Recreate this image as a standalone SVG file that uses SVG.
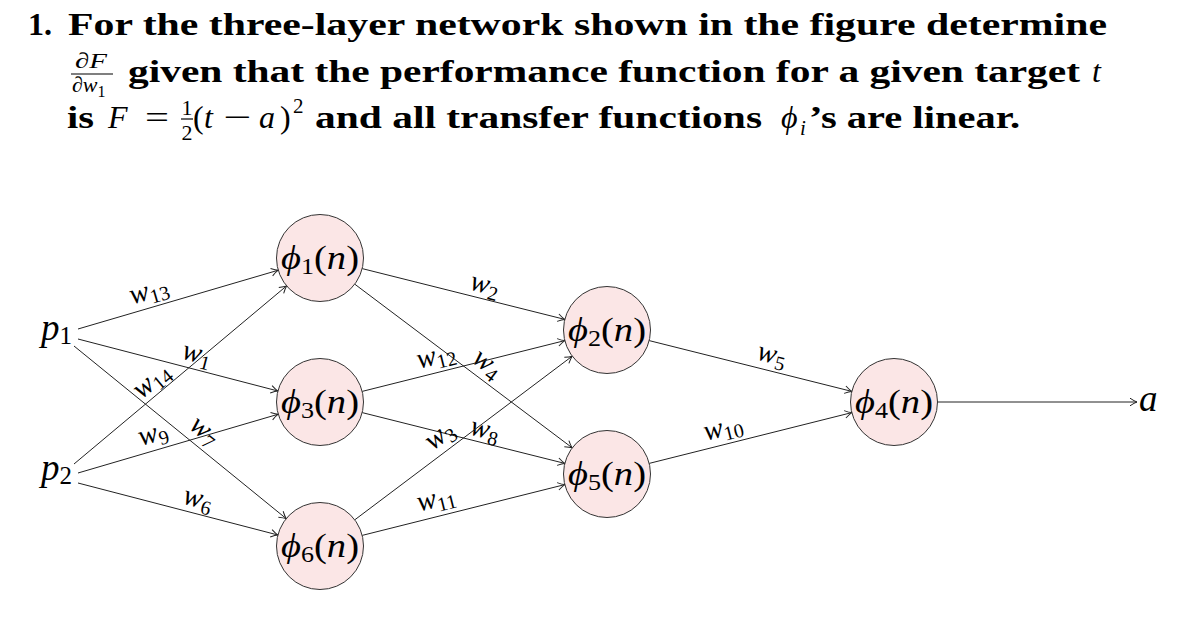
<svg xmlns="http://www.w3.org/2000/svg" width="1186" height="634" viewBox="0 0 1186 634">
<style>
text { font-family: "Liberation Serif", "DejaVu Serif", serif; fill: #000; }
.hb { font-weight: bold; font-size: 32px; }
.mi { font-style: italic; }
.mt { font-size: 32px; }
.fr { font-size: 22px; text-anchor: middle; }
.node circle { fill: #fbe6e6; stroke: #333; stroke-width: 1; }
.nl { font-size: 34px; text-anchor: middle; }
.pl { font-size: 37px; }
.wl { font-size: 29px; text-anchor: middle; }
.edge { stroke: #222; stroke-width: 1; fill: none; marker-end: url(#arr); }
.bar { stroke: #000; stroke-width: 1.2; }
</style>
<defs>
<marker id="arr" markerUnits="userSpaceOnUse" markerWidth="12" markerHeight="12" viewBox="-10 -6 12 12" refX="0" refY="0" orient="auto" overflow="visible">
<path d="M-7,-3.8 Q-2.5,-0.8 0,0 Q-2.5,0.8 -7,3.8" fill="none" stroke="#222" stroke-width="1"/>
</marker>
</defs>

<g id="question">
<text class="hb" x="28" y="35">1.</text>
<text class="hb" x="68" y="35" textLength="1039" lengthAdjust="spacingAndGlyphs">For the three-layer network shown in the figure determine</text>
<text class="fr mi" x="91" y="68" textLength="32" lengthAdjust="spacingAndGlyphs">∂F</text>
<line class="bar" x1="71" y1="74" x2="113" y2="74"/>
<text x="72" y="92" font-size="22"><tspan class="mi">∂w</tspan><tspan font-size="16" dy="5">1</tspan></text>
<text class="hb" x="128" y="82" textLength="952" lengthAdjust="spacingAndGlyphs">given that the performance function for a given target</text>
<text class="mt mi" x="1092" y="82">t</text>
<text class="hb" x="67" y="128" textLength="27" lengthAdjust="spacingAndGlyphs">is</text>
<text class="mt mi" x="108" y="128">F</text>
<text class="mt" x="145" y="128" textLength="24" lengthAdjust="spacingAndGlyphs">=</text>
<text class="fr" x="187" y="115" font-size="19">1</text>
<line class="bar" x1="181" y1="119" x2="193" y2="119"/>
<text class="fr" x="187" y="140" font-size="19">2</text>
<text class="mt" x="193" y="128">(</text>
<text class="mt mi" x="204" y="128">t</text>
<text class="mt" x="223" y="128" textLength="28" lengthAdjust="spacingAndGlyphs">−</text>
<text class="mt mi" x="259" y="128" font-size="35">a</text>
<text class="mt" x="280" y="128">)</text>
<text x="293" y="113" font-size="21">2</text>
<text class="hb" x="315" y="128" textLength="447" lengthAdjust="spacingAndGlyphs">and all transfer functions</text>
<text class="mt mi" x="781" y="128">ϕ</text>
<text class="mi" x="800" y="135" font-size="21">i</text>
<text class="hb" x="809" y="128" textLength="211" lengthAdjust="spacingAndGlyphs">’s are linear.</text>
</g>

<g id="connectors">
<g id="e-p1-phi1"><line class="edge" x1="78" y1="329" x2="278.3" y2="270.2"/>
<text class="wl" transform="translate(150,295) rotate(-16.35)" y="4"><tspan class="mi">w</tspan><tspan font-size="20" dy="5">13</tspan></text></g>
<g id="e-p1-phi3"><line class="edge" x1="78" y1="339" x2="277.9" y2="391"/>
<text class="wl" transform="translate(196,358) rotate(14.59)" y="4"><tspan class="mi">w</tspan><tspan font-size="20" dy="5">1</tspan></text></g>
<g id="e-p1-phi6"><line class="edge" x1="74" y1="346" x2="286.2" y2="518.6"/>
<text class="wl" transform="translate(202,434) rotate(39.1)" y="4"><tspan class="mi">w</tspan><tspan font-size="20" dy="5">7</tspan></text></g>
<g id="e-p2-phi1"><line class="edge" x1="74" y1="464" x2="286.6" y2="285.9"/>
<text class="wl" transform="translate(154,384) rotate(-39.94)" y="4"><tspan class="mi">w</tspan><tspan font-size="20" dy="5">14</tspan></text></g>
<g id="e-p2-phi3"><line class="edge" x1="78" y1="473" x2="278.3" y2="414.2"/>
<text class="wl" transform="translate(154,438) rotate(-16.35)" y="4"><tspan class="mi">w</tspan><tspan font-size="20" dy="5">9</tspan></text></g>
<g id="e-p2-phi6"><line class="edge" x1="78" y1="483" x2="277.9" y2="535"/>
<text class="wl" transform="translate(197,503) rotate(14.59)" y="4"><tspan class="mi">w</tspan><tspan font-size="20" dy="5">6</tspan></text></g>

<g id="e-phi1-phi2"><line class="edge" x1="362.2" y1="268.6" x2="564.8" y2="319.4"/>
<text class="wl" transform="translate(484,289) rotate(14.08)" y="4"><tspan class="mi">w</tspan><tspan font-size="20" dy="5">2</tspan></text></g>
<g id="e-phi1-phi5"><line class="edge" x1="354.8" y1="284.2" x2="572.2" y2="447.8"/>
<text class="wl" transform="translate(485,367) rotate(36.97)" y="4"><tspan class="mi">w</tspan><tspan font-size="20" dy="5">4</tspan></text></g>
<g id="e-phi3-phi2"><line class="edge" x1="362.2" y1="391.4" x2="564.8" y2="340.6"/>
<text class="wl" transform="translate(437,360) rotate(-14.08)" y="4"><tspan class="mi">w</tspan><tspan font-size="20" dy="5">12</tspan></text></g>
<g id="e-phi3-phi5"><line class="edge" x1="362.2" y1="412.6" x2="564.8" y2="463.4"/>
<text class="wl" transform="translate(484,434) rotate(14.08)" y="4"><tspan class="mi">w</tspan><tspan font-size="20" dy="5">8</tspan></text></g>
<g id="e-phi6-phi2"><line class="edge" x1="354.8" y1="519.8" x2="572.2" y2="356.2"/>
<text class="wl" transform="translate(442,439) rotate(-36.97)" y="4"><tspan class="mi">w</tspan><tspan font-size="20" dy="5">3</tspan></text></g>
<g id="e-phi6-phi5"><line class="edge" x1="362.2" y1="535.4" x2="564.8" y2="484.6"/>
<text class="wl" transform="translate(437,503) rotate(-14.08)" y="4"><tspan class="mi">w</tspan><tspan font-size="20" dy="5">11</tspan></text></g>

<g id="e-phi2-phi4"><line class="edge" x1="649.2" y1="340.6" x2="851.8" y2="391.4"/>
<text class="wl" transform="translate(771,359) rotate(14.08)" y="4"><tspan class="mi">w</tspan><tspan font-size="20" dy="5">5</tspan></text></g>
<g id="e-phi5-phi4"><line class="edge" x1="649.2" y1="463.4" x2="851.8" y2="412.6"/>
<text class="wl" transform="translate(724,432) rotate(-14.08)" y="4"><tspan class="mi">w</tspan><tspan font-size="20" dy="5">10</tspan></text></g>
<g id="e-phi4-a"><line class="edge" x1="937.5" y1="402" x2="1137" y2="402"/></g>
</g>

<g id="p1"><text class="pl" x="41" y="340"><tspan class="mi">p</tspan><tspan font-size="25" dy="4">1</tspan></text></g>
<g id="p2"><text class="pl" x="41" y="480"><tspan class="mi">p</tspan><tspan font-size="25" dy="4">2</tspan></text></g>

<g id="phi1" class="node"><circle cx="320" cy="258" r="43.5"/>
<text class="nl" x="320" y="269" textLength="78" lengthAdjust="spacingAndGlyphs"><tspan class="mi">ϕ</tspan><tspan font-size="23" dy="5">1</tspan><tspan dy="-5">(</tspan><tspan class="mi">n</tspan>)</text></g>
<g id="phi3" class="node"><circle cx="320" cy="402" r="43.5"/>
<text class="nl" x="320" y="413" textLength="78" lengthAdjust="spacingAndGlyphs"><tspan class="mi">ϕ</tspan><tspan font-size="23" dy="5">3</tspan><tspan dy="-5">(</tspan><tspan class="mi">n</tspan>)</text></g>
<g id="phi6" class="node"><circle cx="320" cy="546" r="43.5"/>
<text class="nl" x="320" y="557" textLength="78" lengthAdjust="spacingAndGlyphs"><tspan class="mi">ϕ</tspan><tspan font-size="23" dy="5">6</tspan><tspan dy="-5">(</tspan><tspan class="mi">n</tspan>)</text></g>
<g id="phi2" class="node"><circle cx="607" cy="330" r="43.5"/>
<text class="nl" x="607" y="341" textLength="78" lengthAdjust="spacingAndGlyphs"><tspan class="mi">ϕ</tspan><tspan font-size="23" dy="5">2</tspan><tspan dy="-5">(</tspan><tspan class="mi">n</tspan>)</text></g>
<g id="phi5" class="node"><circle cx="607" cy="474" r="43.5"/>
<text class="nl" x="607" y="485" textLength="78" lengthAdjust="spacingAndGlyphs"><tspan class="mi">ϕ</tspan><tspan font-size="23" dy="5">5</tspan><tspan dy="-5">(</tspan><tspan class="mi">n</tspan>)</text></g>
<g id="phi4" class="node"><circle cx="894" cy="402" r="43.5"/>
<text class="nl" x="894" y="413" textLength="78" lengthAdjust="spacingAndGlyphs"><tspan class="mi">ϕ</tspan><tspan font-size="23" dy="5">4</tspan><tspan dy="-5">(</tspan><tspan class="mi">n</tspan>)</text></g>

<g id="a"><text class="pl mi" x="1139" y="411">a</text></g>
</svg>
